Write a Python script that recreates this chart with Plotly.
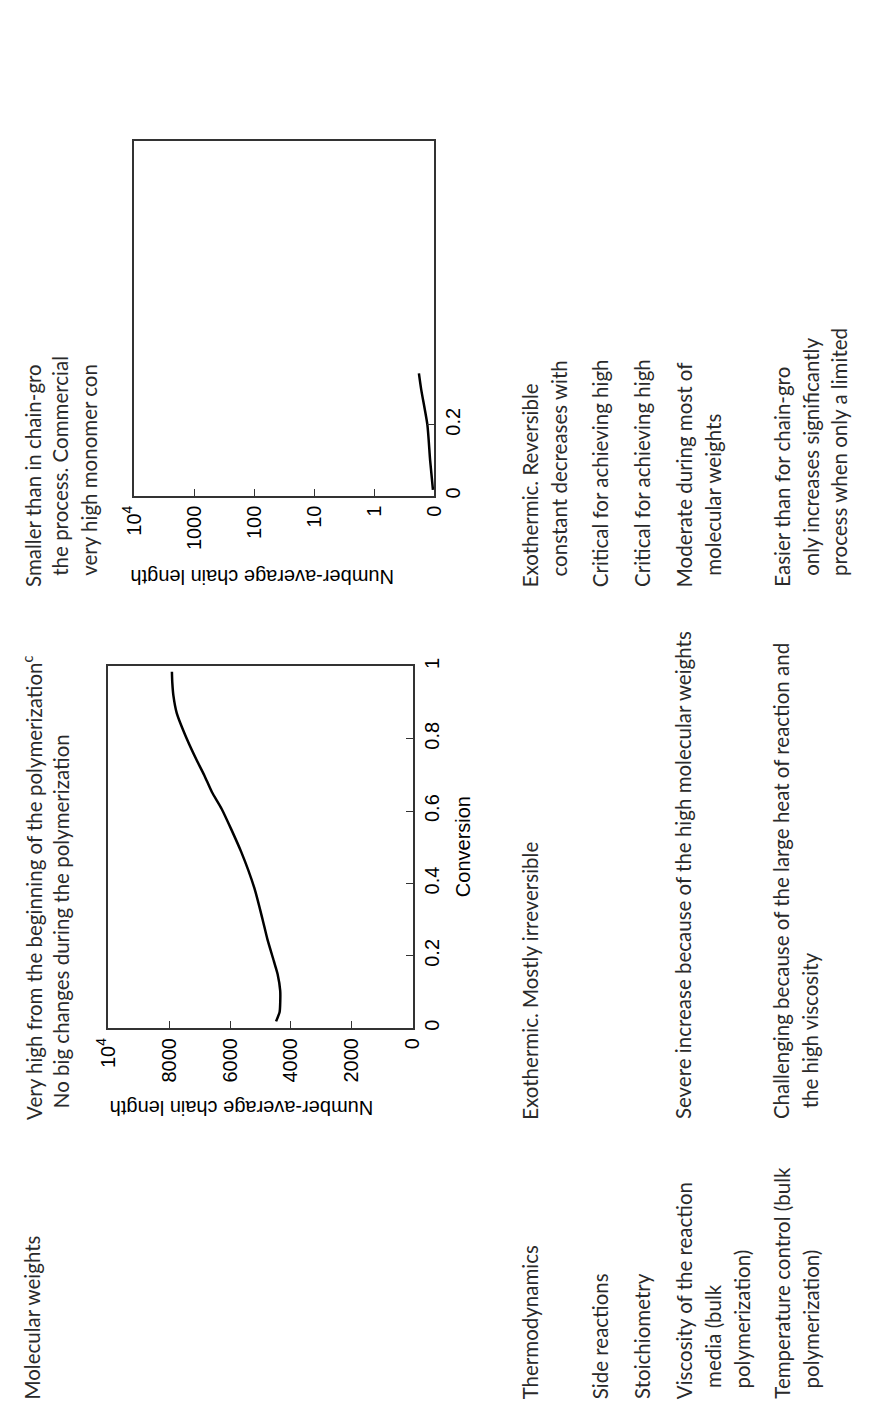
import plotly.graph_objects as go

W, H = 879, 1411

# ---------------- data ----------------
# Step-growth chart (left): conversion vs number-average chain length
step_conversion = [0.019, 0.045, 0.075, 0.104, 0.15, 0.186, 0.247, 0.3, 0.387, 0.488,
                   0.606, 0.652, 0.7, 0.744, 0.8, 0.871, 0.92, 0.955, 0.985]
step_chain_length = [4490, 4373, 4352, 4354, 4440, 4564, 4777, 4930, 5201, 5637,
                     6274, 6592, 6850, 7113, 7420, 7749, 7860, 7895, 7908]

# Chain-growth chart (right): conversion vs number-average chain length (log axis)
chain_conversion = [0.017, 0.1, 0.2, 0.3, 0.345]
chain_chain_length = [0.105, 0.117, 0.13, 0.165, 0.18]

lin_tickvals = [0, 2000, 4000, 6000, 8000, 10000]
lin_ticktext = ["0", "2000", "4000", "6000", "8000", "10<sup>4</sup>"]
log_tickvals = [0.1, 1, 10, 100, 1000, 10000]
log_ticktext = ["0", "1", "10", "100", "1000", "10<sup>4</sup>"]
conv_tickvals = [0, 0.2, 0.4, 0.6, 0.8, 1]
conv_ticktext = ["0", "0.2", "0.4", "0.6", "0.8", "1"]
conv2_tickvals = [0, 0.2]
conv2_ticktext = ["0", "0.2"]

# Table text (one entry per printed line)
col1_lines = ["Molecular weights", "Thermodynamics", "Side reactions", "Stoichiometry",
              "Viscosity of the reaction", "media (bulk", "polymerization)",
              "Temperature control (bulk", "polymerization)"]
col2_lines = ["Very high from the beginning of the polymerization<sup>c</sup>",
              "No big changes during the polymerization",
              "Exothermic. Mostly irreversible",
              "Severe increase because of the high molecular weights",
              "Challenging because of the large heat of reaction and",
              "the high viscosity"]
col3_lines = ["Smaller than in chain-gro", "the process. Commercial", "very high monomer con",
              "Exothermic. Reversible", "constant decreases with",
              "Critical for achieving high", "Critical for achieving high",
              "Moderate during most of", "molecular weights",
              "Easier than for chain-gro", "only increases significantly", "process when only a limited"]

# ---------------- layout positions (pixels) ----------------
col1_x = [18, 531, 603, 646, 689, 719, 749, 790, 820]
col1_indent = [0, 0, 0, 0, 0, 1, 1, 0, 1]
col2_x = [18, 47, 531, 689, 790, 819]
col2_indent = [0, 1, 0, 0, 0, 1]
col3_x = [18, 47, 76, 531, 561, 603, 646, 689, 719, 790, 820, 849]
col3_indent = [0, 1, 1, 0, 1, 0, 0, 0, 1, 0, 1, 1]
col_start = [1404, 1122, 585]
indent_px = 11


def px(x):
    return x / W


def py(y):
    return 1 - y / H


TEXT_FONT = dict(family="Lato, 'Noto Sans', sans-serif", size=20.5, color="#2a2a2a")
PLOT_FONT = dict(family="Liberation Sans, Arial, sans-serif", size=20, color="black")

fig = go.Figure()

fig.add_trace(go.Scatter(x=step_chain_length, y=step_conversion, mode="lines",
                         line=dict(color="black", width=2.5, shape="spline", smoothing=0.6),
                         xaxis="x", yaxis="y", showlegend=False))
fig.add_trace(go.Scatter(x=chain_chain_length, y=chain_conversion, mode="lines",
                         line=dict(color="black", width=2.5, shape="spline", smoothing=0.6),
                         xaxis="x2", yaxis="y2", showlegend=False))

axis_common = dict(showline=True, linecolor="#333", linewidth=1.6, mirror=True,
                   ticks="inside", ticklen=7, tickwidth=1.3, tickcolor="#333",
                   showgrid=False, zeroline=False, tickfont=PLOT_FONT, tickangle=-90)

fig.update_layout(
    width=W, height=H, margin=dict(l=0, r=0, t=0, b=0),
    paper_bgcolor="white", plot_bgcolor="white", showlegend=False,
    xaxis=dict(domain=[px(96), px(410)], range=[10000, 0], anchor="y",
               tickvals=lin_tickvals, ticktext=lin_ticktext, **axis_common),
    yaxis=dict(domain=[py(1028), py(663)], range=[0, 1], anchor="x", side="right",
               tickvals=conv_tickvals, ticktext=conv_ticktext, **axis_common),
    xaxis2=dict(domain=[px(123), px(432)], type="log", range=[4, -1], anchor="y2",
                tickvals=log_tickvals, ticktext=log_ticktext, **axis_common),
    yaxis2=dict(domain=[py(491), py(133)], range=[0, 1], anchor="x2", side="right",
                tickvals=conv2_tickvals, ticktext=conv2_ticktext, **axis_common),
)

annotations = []
for lines, xs, ind, start in [(col1_lines, col1_x, col1_indent, col_start[0]),
                              (col2_lines, col2_x, col2_indent, col_start[1]),
                              (col3_lines, col3_x, col3_indent, col_start[2])]:
    for t, xc, i in zip(lines, xs, ind):
        annotations.append(dict(text=t, x=px(xc), y=py(start - i * indent_px),
                                xref="paper", yref="paper", xanchor="center", yanchor="bottom",
                                textangle=-90, showarrow=False, font=TEXT_FONT))

# Axis titles
annotations.append(dict(text="Number-average chain length", x=px(233), y=py(1109),
                        xref="paper", yref="paper", xanchor="center", yanchor="middle",
                        textangle=180, showarrow=False, font=PLOT_FONT))
annotations.append(dict(text="Number-average chain length", x=px(254), y=py(573),
                        xref="paper", yref="paper", xanchor="center", yanchor="middle",
                        textangle=180, showarrow=False, font=PLOT_FONT))
annotations.append(dict(text="Conversion", x=px(461), y=py(845),
                        xref="paper", yref="paper", xanchor="center", yanchor="middle",
                        textangle=-90, showarrow=False, font=PLOT_FONT))

fig.update_layout(annotations=annotations)
fig.write_html("out.html")
